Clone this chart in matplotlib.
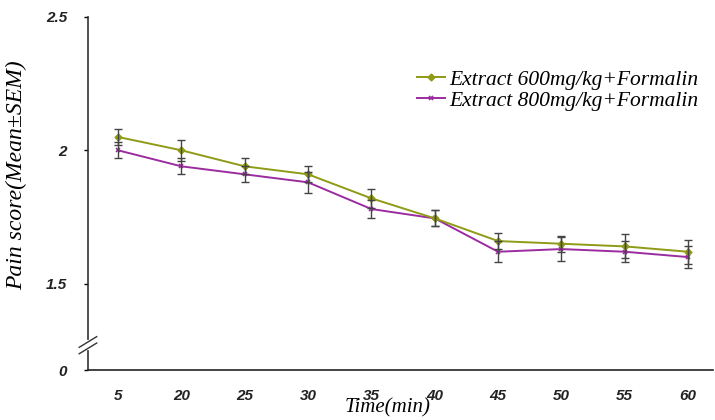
import matplotlib
matplotlib.use("Agg")
import matplotlib.pyplot as plt
import numpy as np

# Données
times = ["5", "20", "25", "30", "35", "40", "45", "50", "55", "60"]
extract_600 = [2.05, 2.00, 1.94, 1.91, 1.82, 1.745, 1.66, 1.65, 1.64, 1.62]
sem_600 = [0.03, 0.04, 0.03, 0.03, 0.035, 0.03, 0.03, 0.03, 0.045, 0.045]
extract_800 = [2.00, 1.94, 1.91, 1.88, 1.78, 1.745, 1.62, 1.63, 1.62, 1.60]
sem_800 = [0.03, 0.03, 0.03, 0.04, 0.035, 0.03, 0.04, 0.045, 0.04, 0.04]
label_600 = "Extract 600mg/kg+Formalin"
label_800 = "Extract 800mg/kg+Formalin"

# Axe y coupé : le bas de l'axe est étiqueté 0
y_bottom = 1.177
y_ticks = [y_bottom, 1.5, 2.0, 2.5]
y_ticklabels = ["0", "1.5", "2", "2.5"]
y_break = 1.27

fig = plt.figure(figsize=(7.15, 4.2), dpi=100)
ax = fig.add_axes([0.123, 0.119, 0.874, 0.841])

x = np.arange(len(times))
ax.errorbar(x, extract_600, yerr=sem_600, fmt="none", ecolor="#444444",
            elinewidth=1, capsize=3, capthick=1, zorder=4)
ax.errorbar(x, extract_800, yerr=sem_800, fmt="none", ecolor="#444444",
            elinewidth=1, capsize=3, capthick=1, zorder=4)
ax.plot(x, extract_600, color="#8f9a16", lw=1.4, marker="D", ms=3.5,
        label=label_600, zorder=3)
ax.plot(x, extract_800, color="#9b2ca0", lw=1.4, marker="x", ms=3.5,
        mew=1.2, label=label_800, zorder=2)

ax.set_xlim(-0.474, 9.39)
ax.set_ylim(y_bottom, 2.5)
ax.set_xticks(x)
ax.set_xticklabels(times)
ax.set_yticks(y_ticks)
ax.set_yticklabels(y_ticklabels)

for lab in ax.get_xticklabels() + ax.get_yticklabels():
    lab.set_family("Liberation Sans")
    lab.set_fontweight("bold")
    lab.set_fontstyle("italic")
    lab.set_fontsize(11)
    lab.set_color("#222222")

ax.tick_params(axis="x", length=0, pad=14)
ax.tick_params(axis="y", length=3, width=1, pad=12)
ax.spines["top"].set_visible(False)
ax.spines["right"].set_visible(False)
ax.spines["left"].set_linewidth(1.2)
ax.spines["bottom"].set_linewidth(1.2)
ax.spines["left"].set_color("#333333")
ax.spines["bottom"].set_color("#222222")

# Marque de coupure sur l'axe y
trans = ax.get_yaxis_transform()
ax.plot([0, 0], [y_break - 0.012, y_break + 0.012], transform=trans,
        color="white", lw=3, clip_on=False, zorder=5)
for dy in (-0.012, 0.012):
    ax.plot([-0.014, 0.014], [y_break + dy - 0.02, y_break + dy + 0.02],
            transform=trans, color="#333333", lw=1, clip_on=False, zorder=6)

ax.set_xlabel("Time(min)", family="Liberation Serif", style="italic",
              fontsize=15)
ax.xaxis.set_label_coords(0.48, -0.08)
ax.set_ylabel("Pain score(Mean±SEM)", family="Liberation Serif",
              style="italic", fontsize=17)
ax.yaxis.set_label_coords(-0.098, 0.552)

leg = ax.legend(loc="upper left", bbox_to_anchor=(0.526, 0.85), frameon=False,
                prop={"family": "Liberation Serif", "style": "italic",
                      "size": 15.5},
                borderpad=0, borderaxespad=0,
                handlelength=1.3, handletextpad=0.2, labelspacing=0.05)

fig.savefig("out.png", dpi=100)
